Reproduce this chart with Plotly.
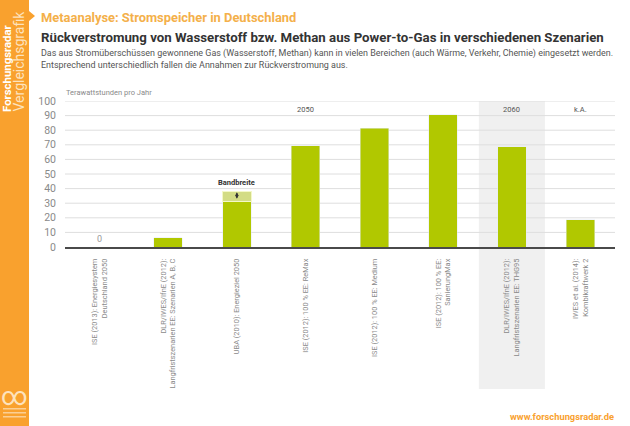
import plotly.graph_objects as go

# values (TWh per year)
labels = [
    'ISE (2013): Energiesystem<br>Deutschland 2050',
    'DLR/IWES/IfnE (2012):<br>Langfristszenarien EE: Szenarien A, B, C',
    'UBA (2010): Energieziel 2050',
    'ISE (2012): 100 % EE: ReMax',
    'ISE (2012): 100 % EE: Medium',
    'ISE (2012): 100 % EE:<br>SanierungMax',
    'DLR/IWES/IfnE (2012):<br>Langfristszenarien EE: THG95',
    'IWES et al. (2014):<br>Kombikraftwerk 2',
]
values = [0, 6.5, 31.5, 69.5, 81.5, 90.5, 68.5, 18.5]
band = [None, None, 6.5, None, None, None, None, None]
y_ticks = [0, 10, 20, 30, 40, 50, 60, 70, 80, 90, 100]

period_labels = ['2050', '2060', 'k.A.']
period_x = [3, 6, 7]

FONT = 'Roboto'
GREEN = '#b1c800'
ORANGE = '#f9a12e'
GREY = '#8a8a8a'

fig = go.Figure()
fig.add_trace(go.Bar(x=list(range(8)), y=values, width=0.415, marker_color=GREEN, showlegend=False))
fig.add_trace(go.Bar(x=list(range(8)), y=band, width=0.415, marker_color='#d3dc85',
                     marker_line_color='#f4f8c8', marker_line_width=1, showlegend=False))

fig.update_layout(
    barmode='stack',
    width=630, height=426,
    margin=dict(l=0, r=0, t=0, b=0),
    paper_bgcolor='white', plot_bgcolor='rgba(0,0,0,0)',
    font=dict(family=FONT, color=GREY),
)
fig.update_xaxes(
    domain=[65/630, 615/630], range=[-0.5, 7.5], automargin=False,
    tickmode='array', tickvals=list(range(8)), ticktext=labels,
    tickangle=-90, tickfont=dict(size=7.4, color='#8a8a8a'), ticks='',
    showgrid=False, showline=True, linecolor='#4a4a4a', linewidth=1.5, zeroline=False,
    ticklabelstandoff=7,
)
fig.update_yaxes(
    domain=[1-247/426, 1-101/426], range=[0, 100], automargin=False,
    tickmode='array', tickvals=y_ticks, tickfont=dict(size=10.5, color=GREY),
    showgrid=False, zeroline=False, ticks='', ticklabelstandoff=8,
)

# grey highlight behind the 2060 scenario
fig.add_shape(type='rect', layer='below', xref='x', yref='paper', x0=5.52, x1=6.48,
              y0=1-389/426, y1=1-101/426, fillcolor='#f0f0f0', line_width=0)

# grid lines on top of the highlight, under the bars
for tick in y_ticks[1:]:
    fig.add_hline(y=tick, layer='below', line_color='#dedede', line_width=1)

# orange side strip with its notch
fig.add_shape(type='rect', xref='paper', yref='paper', x0=0, x1=29/630, y0=0, y1=1,
              fillcolor=ORANGE, line_width=0)
fig.add_shape(type='path', xref='paper', yref='paper',
              path=f'M {29/630} {1-11/426} L {35/630} {1-16/426} L {29/630} {1-21/426} Z',
              fillcolor=ORANGE, line_width=0)

# the lettering under the logo is too small to read, only its strokes are kept
for py in [408, 412, 416]:
    fig.add_shape(type='rect', xref='paper', yref='paper', x0=3/630, x1=26/630,
                  y0=1-(py+1.5)/426, y1=1-py/426, fillcolor='#fbcf94', line_width=0)


def note(text, x, y, size, color=GREY, bold=False, xanchor='left', angle=0, xref='paper', yref='paper', yanchor='middle'):
    if bold:
        text = f'<b>{text}</b>'
    fig.add_annotation(text=text, x=x, y=y, xref=xref, yref=yref, showarrow=False, textangle=angle,
                       xanchor=xanchor, yanchor=yanchor, align='left',
                       font=dict(size=size, color=color, family=FONT), borderpad=0)


note('Metaanalyse: Stromspeicher in Deutschland', 40/630, 1-17/426, 12.9, '#f4b04a', True)
note('Rückverstromung von Wasserstoff bzw. Methan aus Power-to-Gas in verschiedenen Szenarien',
     40/630, 1-37/426, 13.25, '#333333', True)
note('Das aus Stromüberschüssen gewonnene Gas (Wasserstoff, Methan) kann in vielen Bereichen (auch Wärme, Verkehr, Chemie) eingesetzt werden.',
     40/630, 1-53/426, 8.95, '#555555')
note('Entsprechend unterschiedlich fallen die Annahmen zur Rückverstromung aus.', 40/630, 1-65/426, 8.95, '#555555')
note('Terawattstunden pro Jahr', 65/630, 1-92/426, 7.5, GREY)
note('www.forschungsradar.de', 615/630, 1-416/426, 9.3, ORANGE, True, xanchor='right')

for name, px in zip(period_labels, period_x):
    note(name, px, 94.5, 7.5, '#555555', xanchor='center', xref='x', yref='y')
note('0', 0, 5.5, 9, '#999999', xanchor='center', xref='x', yref='y')
note('Bandbreite', 2, 44, 7.5, '#333333', True, xanchor='center', xref='x', yref='y')
fig.add_annotation(x=2, y=37.5, ax=2, ay=32, xref='x', yref='y', axref='x', ayref='y', text='',
                   showarrow=True, arrowside='end+start', arrowhead=2, arrowsize=0.7,
                   arrowwidth=1, arrowcolor='#333333')

# side strip texts and logo
note('Forschungsradar', 7/630, 1-113/426, 11.4, 'white', True, xanchor='center', angle=-90, yanchor='bottom')
note('Vergleichsgrafik', 19/630, 1-113/426, 14, '#fde3bd', xanchor='center', angle=-90, yanchor='bottom')
note('∞', 14/630, 1-396/426, 26, '#fde3bd', xanchor='center')

fig.write_html("out.html", config={'displayModeBar': False}, post_script="document.body.style.margin='0';")
